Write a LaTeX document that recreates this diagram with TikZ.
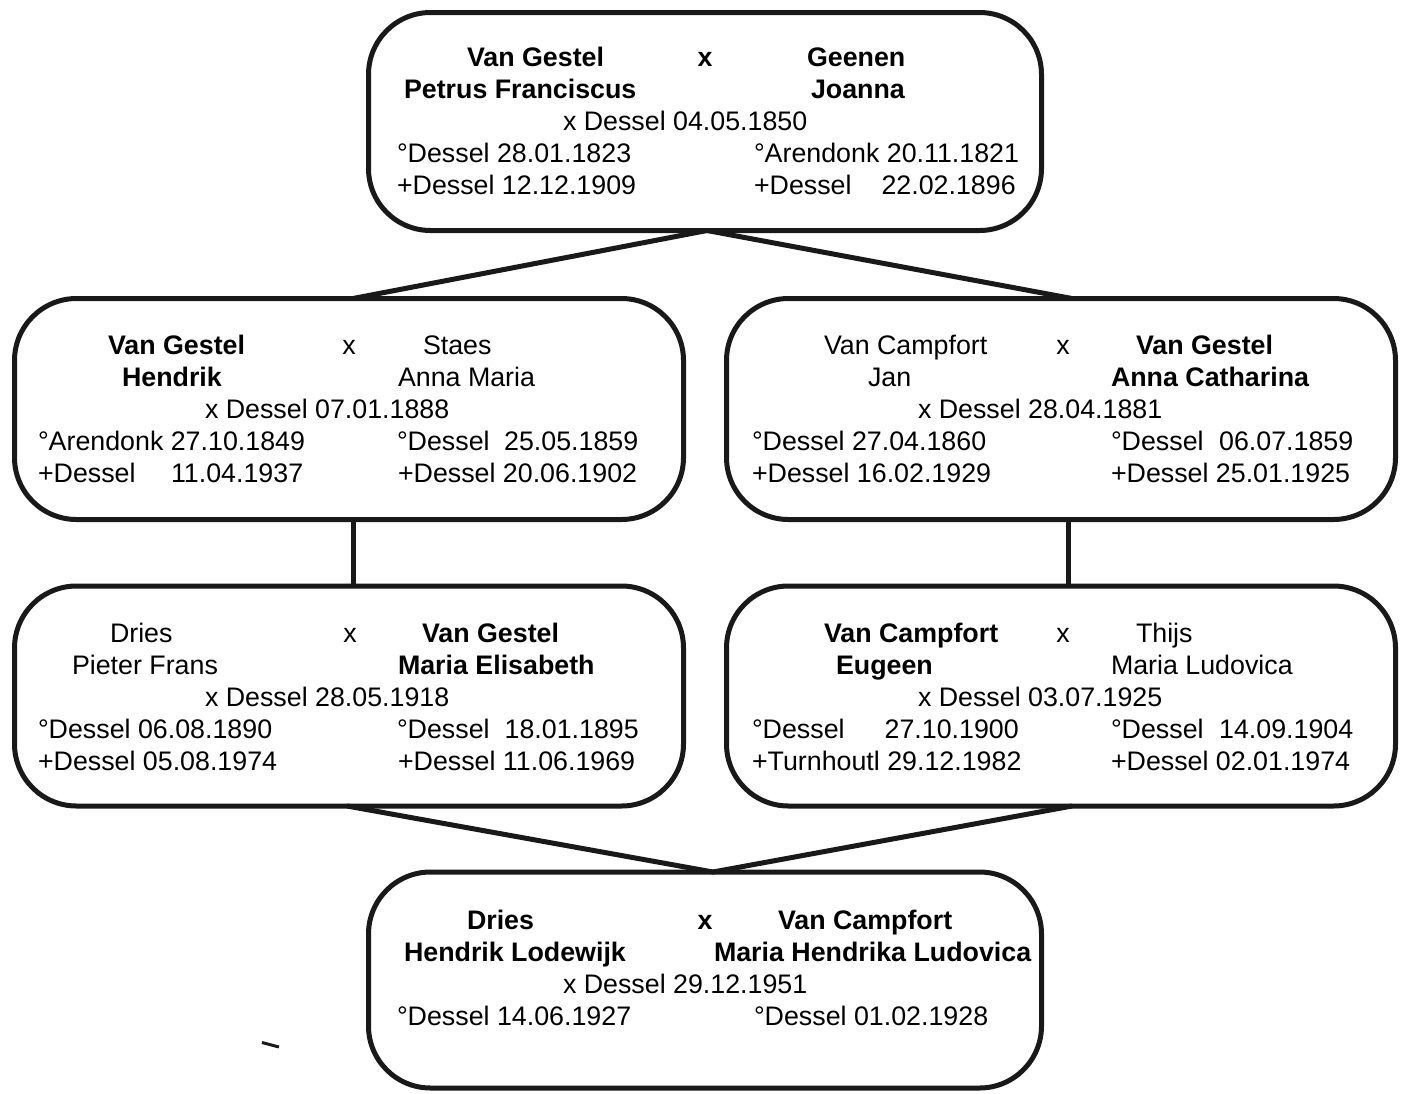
\documentclass[tikz,border=0pt]{standalone}
\usepackage{fontspec}
\setmainfont{Liberation Sans}
\begin{document}
\begin{tikzpicture}[x=1pt,y=-1pt,
  famfont/.style={font=\fontsize{26.8}{32}\selectfont},
  t/.style={famfont,inner sep=0pt,outer sep=0pt,anchor=base west},
  tb/.style={t,font=\fontsize{26.8}{32}\selectfont\bfseries},
  tx/.style={famfont,inner sep=0pt,outer sep=0pt,anchor=base},
  txb/.style={tx,font=\fontsize{26.8}{32}\selectfont\bfseries},
  famBox/.style={draw=black!90,line width=5pt,rounded corners=62pt,rectangle,inner sep=0pt,outer sep=0pt},
  link/.style={draw=black!90,line width=5pt}]
\fill[white] (0,0) rectangle (1408,1093);
\useasboundingbox (0,0) rectangle (1408,1093);
% boxes
\node[famBox,minimum width=673pt,minimum height=218pt] (B1) at (705,121.5) {};
\node[famBox,minimum width=669pt,minimum height=221pt] (B2) at (349,409) {};
\node[famBox,minimum width=669pt,minimum height=221pt] (B3) at (1061,409) {};
\node[famBox,minimum width=669pt,minimum height=220pt] (B4) at (349,696) {};
\node[famBox,minimum width=669pt,minimum height=220pt] (B5) at (1061,696) {};
\node[famBox,minimum width=673pt,minimum height=216pt] (B6) at (705,980) {};
% connectors
\draw[link] ([xshift=4pt]B2.north) -- ([xshift=2pt]B1.south) -- ([xshift=11pt]B3.north);
\draw[link] ([xshift=4.5pt]B2.south) -- ([xshift=4.5pt]B4.north);
\draw[link] ([xshift=7.5pt]B3.south) -- ([xshift=7.5pt]B5.north);
\draw[link] ([xshift=-2pt]B4.south) -- ([xshift=8pt]B6.north) -- ([xshift=11pt]B5.south);
% box 1
\node[tb] (a1) at (467,66) {Van Gestel};
\node[txb] (a2) at (705,66) {x};
\node[tb] (a3) at (807,66) {Geenen};
\node[tb] (a4) at (404,98) {Petrus Franciscus};
\node[tb] (a5) at (811,98) {Joanna};
\node[t] (a6) at (563,130) {x Dessel 04.05.1850};
\node[t] (a7) at (397,162) {°Dessel 28.01.1823};
\node[t] (a8) at (754,162) {°Arendonk 20.11.1821};
\node[t] (a9) at (397,194) {+Dessel 12.12.1909};
\node[t] (a10) at (754,194) {+Dessel\hspace{30pt}22.02.1896};
% box 2
\node[tb] (b1) at (108,354) {Van Gestel};
\node[tx] (b2) at (349,354) {x};
\node[t] (b3) at (423,354) {Staes};
\node[tb] (b4) at (122,386) {Hendrik};
\node[t] (b5) at (398,386) {Anna Maria};
\node[t] (b6) at (205,418) {x Dessel 07.01.1888};
\node[t] (b7) at (38,450) {°Arendonk 27.10.1849};
\node[t] (b8) at (397,450) {°Dessel\hspace{14.5pt}25.05.1859};
\node[t] (b9) at (38,482) {+Dessel\hspace{35.5pt}11.04.1937};
\node[t] (b10) at (398,482) {+Dessel 20.06.1902};
% box 3
\node[t] (c1) at (824,354) {Van Campfort};
\node[tx] (c2) at (1063,354) {x};
\node[tb] (c3) at (1136,354) {Van Gestel};
\node[t] (c4) at (868,386) {Jan};
\node[tb] (c5) at (1111,386) {Anna Catharina};
\node[t] (c6) at (918,418) {x Dessel 28.04.1881};
\node[t] (c7) at (752,450) {°Dessel 27.04.1860};
\node[t] (c8) at (1111,450) {°Dessel\hspace{15.5pt}06.07.1859};
\node[t] (c9) at (752,482) {+Dessel 16.02.1929};
\node[t] (c10) at (1111,482) {+Dessel 25.01.1925};
% box 4
\node[t] (d1) at (110,642) {Dries};
\node[tx] (d2) at (350,642) {x};
\node[tb] (d3) at (422,642) {Van Gestel};
\node[t] (d4) at (72,674) {Pieter Frans};
\node[tb] (d5) at (398,674) {Maria Elisabeth};
\node[t] (d6) at (205,706) {x Dessel 28.05.1918};
\node[t] (d7) at (38,738) {°Dessel 06.08.1890};
\node[t] (d8) at (397,738) {°Dessel\hspace{15pt}18.01.1895};
\node[t] (d9) at (38,770) {+Dessel 05.08.1974};
\node[t] (d10) at (398,770) {+Dessel 11.06.1969};
% box 5
\node[tb] (e1) at (824,642) {Van Campfort};
\node[tx] (e2) at (1063,642) {x};
\node[t] (e3) at (1136,642) {Thijs};
\node[tb] (e4) at (836,674) {Eugeen};
\node[t] (e5) at (1111,674) {Maria Ludovica};
\node[t] (e6) at (918,706) {x Dessel 03.07.1925};
\node[t] (e7) at (752,738) {°Dessel\hspace{40pt}27.10.1900};
\node[t] (e8) at (1111,738) {°Dessel\hspace{15.5pt}14.09.1904};
\node[t] (e9) at (752,770) {+Turnhoutl 29.12.1982};
\node[t] (e10) at (1111,770) {+Dessel 02.01.1974};
% box 6
\node[tb] (f1) at (467,929) {Dries};
\node[txb] (f2) at (705,929) {x};
\node[tb] (f3) at (778,929) {Van Campfort};
\node[tb] (f4) at (404,961) {Hendrik Lodewijk};
\node[tb] (f5) at (714,961) {Maria Hendrika Ludovica};
\node[t] (f6) at (563,993) {x Dessel 29.12.1951};
\node[t] (f7) at (397,1025) {°Dessel 14.06.1927};
\node[t] (f8) at (754,1025) {°Dessel 01.02.1928};
% stray mark
\coordinate (m1) at (262,1042.5);
\coordinate (m2) at (279,1047);
\draw[draw=black!90,line width=3pt] (m1) -- (m2);
\end{tikzpicture}
\end{document}
